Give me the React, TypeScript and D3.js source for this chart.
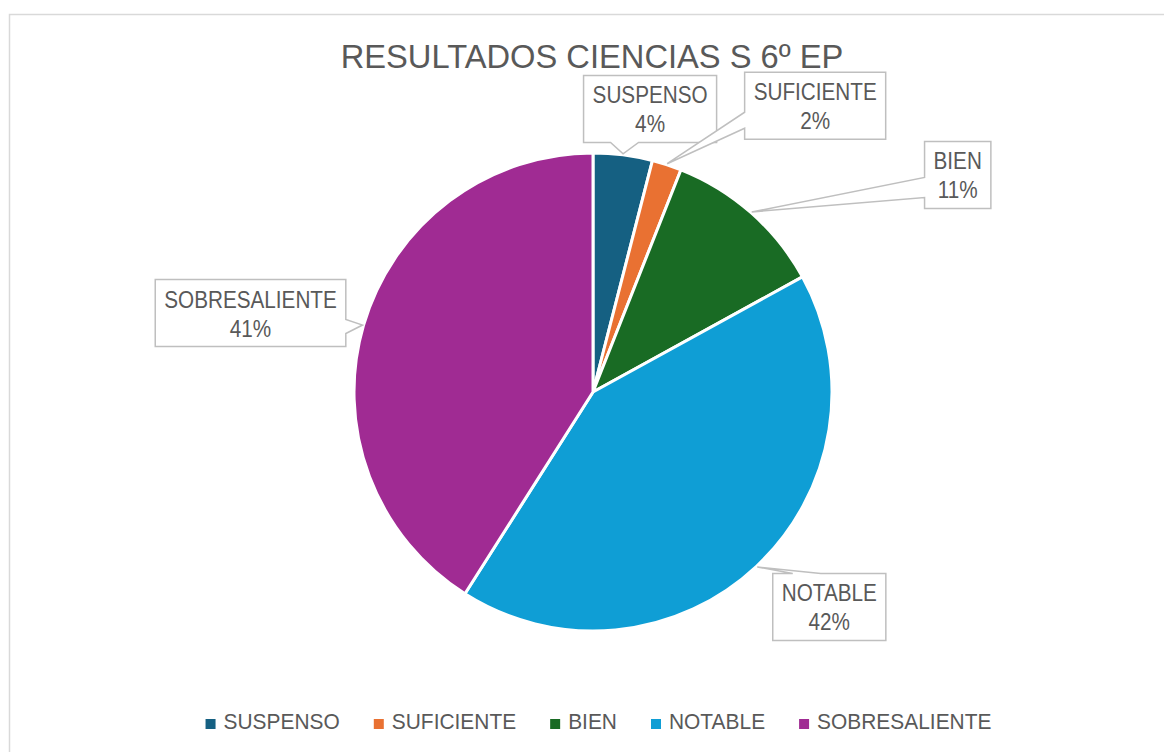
import React, { useEffect, useRef } from "react";
import * as d3 from "d3";

const categories = ["SUSPENSO", "SUFICIENTE", "BIEN", "NOTABLE", "SOBRESALIENTE"];
const values = [4, 2, 11, 42, 41];
const colors = ["#156082", "#E97132", "#196B24", "#0F9ED5", "#A02B93"];
const title = "RESULTADOS CIENCIAS S 6º EP";

// label layout: box centre offset from the callout tip, wedge side and base offsets
const labelLayout = [
  { dx: 27, dy: -45, side: "bottom", a: 27, b: 55 },
  { dx: 148, dy: -58, side: "left", a: 40, b: 56 },
  { dx: 206, dy: -37, side: "left", a: 36, b: 56 },
  { dx: 72, dy: 40, side: "top", a: 20, b: 48 },
  { dx: -112, dy: -12, side: "right", a: 40, b: 54 },
];

const W = 1164;
const H = 752;
const FONT = "'Liberation Sans', Arial, sans-serif";
const TEXT = "#595959";
const SX = 0.9;
const SXL = 0.93;

export default function App() {
  const ref = useRef<SVGSVGElement>(null);

  useEffect(() => {
    document.body.style.margin = "0";
    const svg = d3.select(ref.current);
    svg.selectAll("*").remove();

    svg.append("rect").attr("x", 0).attr("y", 0).attr("width", W).attr("height", H).attr("fill", "#fff");
    svg
      .append("rect")
      .attr("x", 9.5)
      .attr("y", 14.5)
      .attr("width", W + 20)
      .attr("height", H + 20)
      .attr("fill", "#fff")
      .attr("stroke", "#d9d9d9")
      .attr("stroke-width", 1.5);

    const tg = svg.append("g").attr("transform", `translate(592,68) scale(0.99,1)`);
    tg.append("text")
      .attr("x", 0)
      .attr("y", 0)
      .attr("text-anchor", "middle")
      .attr("font-family", FONT)
      .attr("font-size", 33)
      .attr("fill", TEXT)
      .text(title);

    const cx = 593;
    const cy = 392;
    const r = 239;

    const pie = d3.pie<number>().sort(null).value((d) => d);
    const arcs = pie(values);
    const arc = d3.arc<d3.PieArcDatum<number>>().innerRadius(0).outerRadius(r);

    const g = svg.append("g").attr("transform", `translate(${cx},${cy})`);
    g.selectAll("path.slice")
      .data(arcs)
      .enter()
      .append("path")
      .attr("class", "slice")
      .attr("d", arc as any)
      .attr("fill", (_, i) => colors[i])
      .attr("stroke", "#fff")
      .attr("stroke-width", 3)
      .attr("stroke-linejoin", "round");

    const total = d3.sum(values);
    const lg = svg.append("g");
    arcs.forEach((d, i) => {
      const mid = (d.startAngle + d.endAngle) / 2;
      const tx = cx + (r + 1) * Math.sin(mid);
      const ty = cy - (r + 1) * Math.cos(mid);
      const L = labelLayout[i];
      const pct = Math.round((values[i] / total) * 100) + "%";

      const grp = lg.append("g");
      const g1 = grp.append("g");
      const t1 = g1
        .append("text")
        .attr("font-family", FONT)
        .attr("font-size", 23)
        .attr("fill", TEXT)
        .attr("text-anchor", "middle")
        .text(categories[i]);
      const tw = (t1.node() as SVGTextElement).getComputedTextLength() * SX;
      const bw = tw + 18;
      const bh = 67;
      const bcx = tx + L.dx;
      const bcy = ty + L.dy;
      const x0 = bcx - bw / 2;
      const x1 = bcx + bw / 2;
      const y0 = bcy - bh / 2;
      const y1 = bcy + bh / 2;

      const p = d3.path();
      p.moveTo(x0, y0);
      if (L.side === "top") {
        p.lineTo(x0 + L.a, y0);
        p.lineTo(tx, ty);
        p.lineTo(x0 + L.b, y0);
      }
      p.lineTo(x1, y0);
      if (L.side === "right") {
        p.lineTo(x1, y0 + L.a);
        p.lineTo(tx, ty);
        p.lineTo(x1, y0 + L.b);
      }
      p.lineTo(x1, y1);
      if (L.side === "bottom") {
        p.lineTo(x0 + L.b, y1);
        p.lineTo(tx, ty);
        p.lineTo(x0 + L.a, y1);
      }
      p.lineTo(x0, y1);
      if (L.side === "left") {
        p.lineTo(x0, y0 + L.b);
        p.lineTo(tx, ty);
        p.lineTo(x0, y0 + L.a);
      }
      p.closePath();

      grp
        .insert("path", "g")
        .attr("d", p.toString())
        .attr("fill", "#fff")
        .attr("stroke", "#bfbfbf")
        .attr("stroke-width", 1.5)
        .attr("stroke-linejoin", "miter");

      g1.attr("transform", `translate(${bcx},${y0 + 28}) scale(${SX},1)`);
      grp
        .append("g")
        .attr("transform", `translate(${bcx},${y0 + 57}) scale(${SX},1)`)
        .append("text")
        .attr("font-family", FONT)
        .attr("font-size", 23)
        .attr("fill", TEXT)
        .attr("text-anchor", "middle")
        .text(pct);
    });

    // legend
    const leg = svg.append("g");
    const items = categories.map((c, i) => {
      const it = leg.append("g");
      it.append("rect").attr("width", 10).attr("height", 10).attr("y", -10).attr("fill", colors[i]);
      const tgp = it.append("g").attr("transform", `translate(18,0) scale(${SXL},1)`);
      const t = tgp
        .append("text")
        .attr("font-family", FONT)
        .attr("font-size", 22.5)
        .attr("fill", TEXT)
        .text(c);
      const w = 18 + (t.node() as SVGTextElement).getComputedTextLength() * SXL;
      return { it, w };
    });
    const gap = 34;
    const totalW = d3.sum(items, (d) => d.w) + gap * (items.length - 1);
    let x = 598.5 - totalW / 2;
    items.forEach((d) => {
      d.it.attr("transform", `translate(${x},729)`);
      x += d.w + gap;
    });
  }, []);

  return <svg ref={ref} width={W} height={H} style={{ display: "block" }} />;
}
